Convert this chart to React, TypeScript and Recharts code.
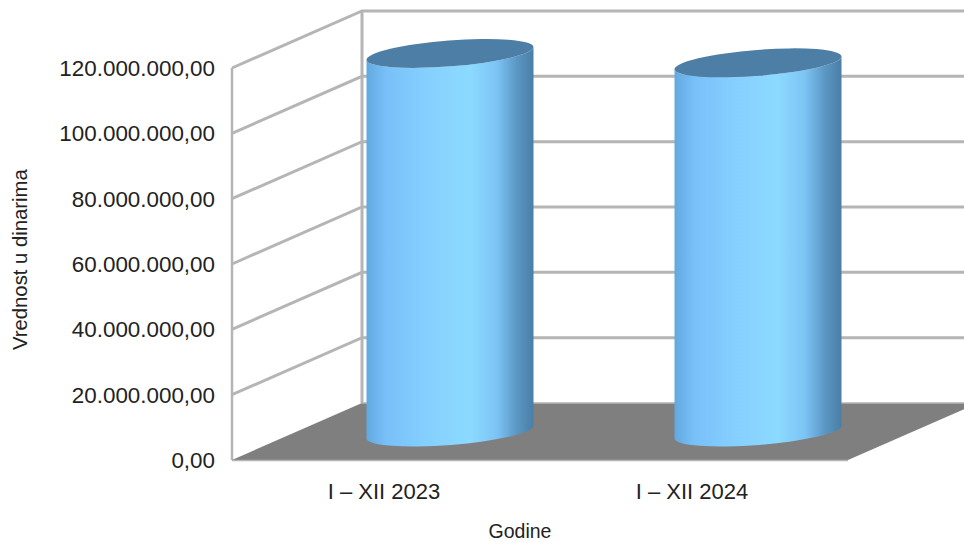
import React from "react";
import { ComposedChart, Bar, XAxis, YAxis, CartesianGrid } from "recharts";

const categories = ["I – XII 2023", "I – XII 2024"];
const values = [115900000, 113000000];
const yTicks = [0, 20000000, 40000000, 60000000, 80000000, 100000000, 120000000];
const yTickLabels = ["0,00", "20.000.000,00", "40.000.000,00", "60.000.000,00", "80.000.000,00", "100.000.000,00", "120.000.000,00"];
const data = categories.map((name, i) => ({ name, value: values[i] }));

const DEPTH_X = 130;
const DEPTH_Y = 57;
const GRID = "#b5b5b5";
const FONT = "'Liberation Sans', Arial, sans-serif";

function GridLine(props: any) {
  const { x1, x2, y1 } = props;
  const isFloor = Math.abs(y1 - 460) < 1;
  const bx = x1 + DEPTH_X;
  const by = y1 - DEPTH_Y;
  if (isFloor) {
    return (
      <g>
        <line x1={bx} y1={12} x2={bx} y2={by} stroke={GRID} strokeWidth={3} />
        <line x1={x1} y1={68} x2={x1} y2={y1} stroke={GRID} strokeWidth={2.5} />
        <polygon points={`${x1},${y1} ${x2},${y1} ${x2 + DEPTH_X},${by} ${bx},${by}`} fill="#7f7f7f" />
        <line x1={bx} y1={by} x2={974} y2={by} stroke={GRID} strokeWidth={1.5} />
        <line x1={x1} y1={y1 + 0.5} x2={x2} y2={y1 + 0.5} stroke={GRID} strokeWidth={1.5} />
      </g>
    );
  }
  return (
    <polyline
      points={`${x1},${y1} ${bx},${by} ${974},${by}`}
      fill="none"
      stroke={GRID}
      strokeWidth={3}
    />
  );
}

function Cylinder(props: any) {
  const { x, y, width, height } = props;
  const cx = x + width / 2 + 63.5;
  const topY = y - 28;
  const botY = y + height - 28;
  const dx = width / 2;
  const dy = 6.5;
  const rx = Math.sqrt(dx * dx + dy * dy);
  const ry = 13;
  const rot = (-Math.atan2(dy, dx) * 180) / Math.PI;
  const body = `M${cx - dx},${topY + dy} L${cx - dx},${botY + dy} A${rx},${ry} ${rot} 0 0 ${cx + dx},${botY - dy} L${cx + dx},${topY - dy} A${rx},${ry} ${rot} 0 1 ${cx - dx},${topY + dy} Z`;
  return (
    <g>
      <path d={body} fill="url(#cyl)" />
      <ellipse cx={cx} cy={topY} rx={rx} ry={ry} transform={`rotate(${rot} ${cx} ${topY})`} fill="#4d7ea6" />
    </g>
  );
}

export default function App() {
  return (
    <div style={{ position: "absolute", left: 0, top: 0, width: 964, height: 542, background: "#fff", overflow: "hidden" }}>
      <ComposedChart
        width={964}
        height={542}
        data={data}
        margin={{ top: 68, right: 116, bottom: 0, left: 0 }}
        barCategoryGap={70}
      >
        <defs>
          <linearGradient id="cyl" x1="0" y1="0" x2="1" y2="0">
            <stop offset="0" stopColor="#62a9e0" />
            <stop offset="0.12" stopColor="#78c0f8" />
            <stop offset="0.35" stopColor="#85cfff" />
            <stop offset="0.62" stopColor="#8cdaff" />
            <stop offset="0.78" stopColor="#7cc4f5" />
            <stop offset="0.9" stopColor="#5b97c4" />
            <stop offset="1" stopColor="#4a7ea6" />
          </linearGradient>
        </defs>
        <CartesianGrid vertical={false} horizontal={(p: any) => <GridLine {...p} key={p.key ?? p.y1} />} />
        <XAxis
          dataKey="name"
          height={82}
          axisLine={false}
          tickLine={false}
          tickMargin={17}
          tick={{ fill: "#222", fontSize: 22, fontFamily: FONT, dx: -2 }}
          label={{ value: "Godine", position: "insideBottom", offset: 4, dx: -20, fill: "#222", fontSize: 19.5, fontFamily: FONT }}
        />
        <YAxis
          width={232}
          domain={[0, 120000000]}
          ticks={yTicks}
          axisLine={false}
          tickLine={false}
          tickMargin={11}
          interval={0}
          tickFormatter={(_v: number, i: number) => yTickLabels[i]}
          tick={{ fill: "#222", fontSize: 22.4, fontFamily: FONT }}
          label={{ value: "Vrednost u dinarima", angle: -90, position: "insideLeft", offset: 20, dy: 86, fill: "#222", fontSize: 20.3, fontFamily: FONT }}
        />
        <Bar dataKey="value" shape={Cylinder} barSize={167} isAnimationActive={false} />
      </ComposedChart>
    </div>
  );
}
